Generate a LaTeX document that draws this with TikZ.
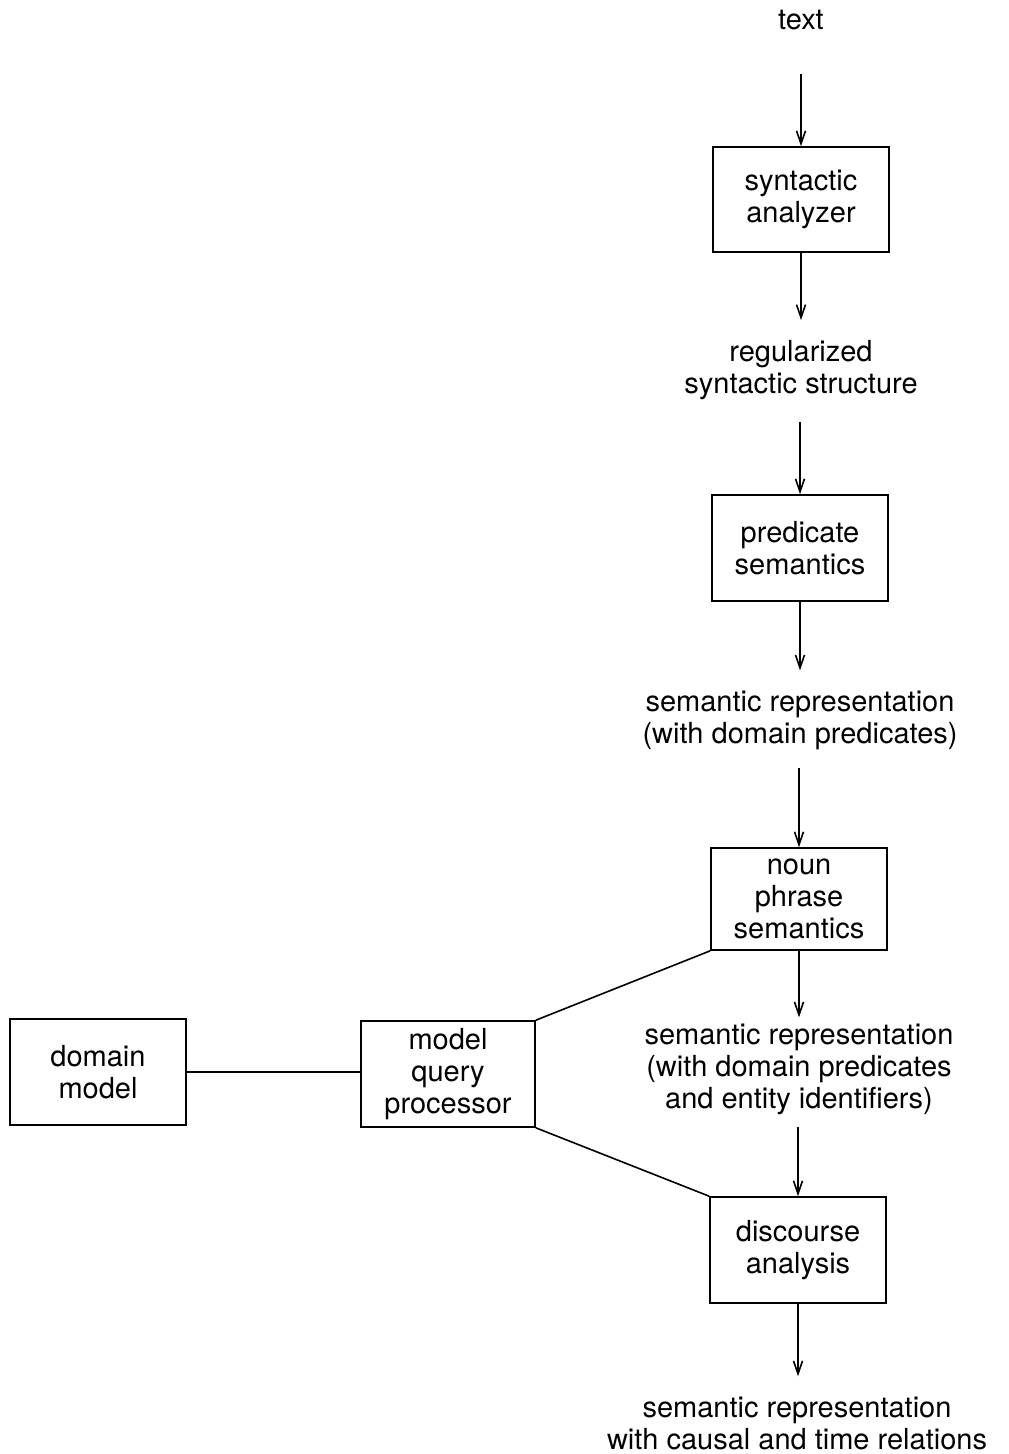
\documentclass[tikz,border=0pt]{standalone}
\usepackage{fontspec}
\setmainfont{TeX Gyre Heros}
\usetikzlibrary{arrows.meta}
\begin{document}
\begin{tikzpicture}[x=1pt,y=-1pt,
  every node/.style={font=\fontsize{29}{32}\selectfont, align=center, inner sep=0pt},
  procbox/.style={draw, line width=1.6pt, minimum width=176pt, minimum height=105pt},
  lbl/.style={},
  flow/.style={line width=1.6pt, -{Straight Barb[length=13pt,width=9pt,line width=1.6pt]}},
  link/.style={line width=1.6pt}]
\useasboundingbox (0,0) rectangle (1009,1454);
\node[lbl] (t) at (801,20) {text};
\node[procbox] (sa) at (801,199.5) {syntactic\\analyzer};
\node[lbl] (rs) at (801,370) {regularized\\syntactic structure};
\node[procbox, minimum height=106pt] (ps) at (800,548) {predicate\\semantics};
\node[lbl] (sr1) at (800,720) {semantic representation\\(with domain predicates)};
\node[procbox, minimum height=102pt] (np) at (799,899) {noun\\phrase\\semantics};
\node[lbl] (sr2) at (799,1069) {semantic representation\\(with domain predicates\\and entity identifiers)};
\node[procbox, minimum height=106pt] (da) at (798,1250) {discourse\\analysis};
\node[lbl] (sr3) at (797,1423) {semantic representation\\with causal and time relations};
\node[procbox, minimum height=106pt] (dm) at (98,1072) {domain\\model};
\node[procbox, minimum width=174pt, minimum height=106pt] (mq) at (448,1074) {model\\query\\processor};

\draw[flow, shorten <=44pt] (t.south -| sa.north) -- (sa.north);
\draw[flow, shorten >=20pt] (sa.south) -- (rs.north -| sa.south);
\draw[flow, shorten <=22pt] (rs.south -| ps.north) -- (ps.north);
\draw[flow, shorten >=20pt] (ps.south) -- (sr1.north -| ps.south);
\draw[flow, shorten <=18pt] (sr1.south -| np.north) -- (np.north);
\draw[flow, shorten >=6pt] (np.south) -- (sr2.north -| np.south);
\draw[flow, shorten <=12pt] (sr2.south -| da.north) -- (da.north);
\draw[flow, shorten >=20pt] (da.south) -- (sr3.north -| da.south);
\draw[link] (dm.east) -- (dm.east -| mq.west);
\draw[link] (mq.north east) -- (np.south west);
\draw[link] (mq.south east) -- (da.north west);
\end{tikzpicture}
\end{document}
